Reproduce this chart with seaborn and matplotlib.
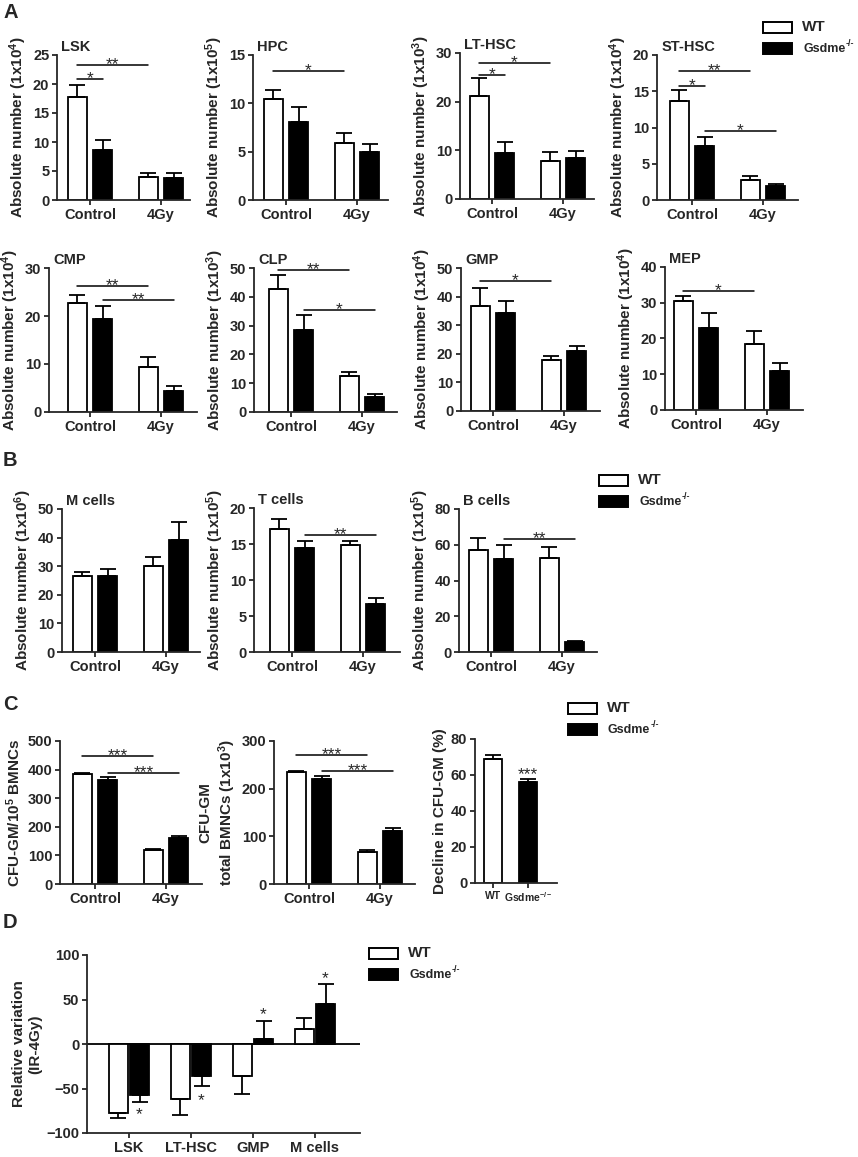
import numpy as np
import pandas as pd
import matplotlib
matplotlib.use("Agg")
import matplotlib.pyplot as plt
from matplotlib.patches import Rectangle
from matplotlib.text import Annotation
import seaborn as sns

# ---- data ----
conds = ["Control", "4Gy"]
genos = ["WT", "KO"]
# order of every list: WT ctrl, KO ctrl, WT 4Gy, KO 4Gy
lsk_mean = [17.7, 8.7, 3.9, 3.8]
lsk_err = [2.2, 1.7, 0.7, 0.8]
hpc_mean = [10.5, 8.1, 5.85, 5.0]
hpc_err = [0.9, 1.5, 1.1, 0.8]
lthsc_mean = [21.2, 9.4, 7.8, 8.5]
lthsc_err = [3.6, 2.3, 1.9, 1.4]
sthsc_mean = [13.7, 7.4, 2.8, 1.95]
sthsc_err = [1.5, 1.3, 0.45, 0.2]
cmp_mean = [22.8, 19.4, 9.4, 4.3]
cmp_err = [1.6, 2.7, 2.1, 1.05]
clp_mean = [42.7, 28.5, 12.4, 5.1]
clp_err = [5.0, 5.2, 1.5, 1.2]
gmp_mean = [36.6, 34.4, 17.9, 21.1]
gmp_err = [6.4, 4.2, 1.4, 1.8]
mep_mean = [30.5, 22.8, 18.5, 11.0]
mep_err = [1.4, 4.2, 3.5, 2.2]
mcell_mean = [26.4, 26.6, 30.0, 39.0]
mcell_err = [1.7, 2.4, 3.3, 6.6]
tcell_mean = [17.1, 14.45, 14.85, 6.7]
tcell_err = [1.4, 1.0, 0.6, 0.8]
bcell_mean = [56.9, 51.9, 52.6, 5.5]
bcell_err = [7.1, 7.7, 6.1, 0.9]
cfu_mean = [383, 365, 118, 161]
cfu_err = [4, 9, 4, 8]
cfutot_mean = [235, 221, 68, 111]
cfutot_err = [2, 5, 3, 6]

decline_cats = ["WT", "Gsdme$^{-/-}$"]
decline_mean = [69.1, 56.1]
decline_err = [1.8, 1.5]

d_cats = ["LSK", "LT-HSC", "GMP", "M cells"]
d_wt_mean = [-77, -61.7, -36.3, 16.8]
d_wt_err = [6, 18.3, 19.4, 12.2]
d_ko_mean = [-56.8, -36.3, 6.0, 44.9]
d_ko_err = [8.2, 11.2, 19.4, 22.8]
d_star_y = [-75, -59, 37, 78]

# significance bars: (bar i, bar j, height, label)
lsk_sig = [(0, 1, 20.9, "*"), (0, 2, 23.2, "**")]
hpc_sig = [(0, 2, 13.3, "*")]
lthsc_sig = [(0, 1, 25.5, "*"), (0, 2, 27.9, "*")]
sthsc_sig = [(0, 1, 15.7, "*"), (0, 2, 17.8, "**"), (1, 3, 9.5, "*")]
cmp_sig = [(0, 2, 26.25, "**"), (1, 3, 23.4, "**")]
clp_sig = [(0, 2, 49.2, "**"), (1, 3, 35.3, "*")]
gmp_sig = [(0, 2, 45.3, "*")]
mep_sig = [(0, 2, 33.3, "*")]
tcell_sig = [(1, 3, 16.3, "**")]
bcell_sig = [(1, 3, 63.1, "**")]
cfu_sig = [(0, 2, 447, "***"), (1, 3, 389, "***")]
cfutot_sig = [(0, 2, 270, "***"), (1, 3, 237, "***")]

# ---- style ----
sns.set_style("ticks")
plt.rcParams["font.family"] = ["Liberation Sans", "DejaVu Sans"]
plt.rcParams["font.weight"] = "bold"
plt.rcParams["axes.labelweight"] = "bold"
plt.rcParams["mathtext.fontset"] = "custom"
plt.rcParams["mathtext.rm"] = "Liberation Sans:bold"
plt.rcParams["mathtext.it"] = "Liberation Sans:bold"
plt.rcParams["mathtext.bf"] = "Liberation Sans:bold"
plt.rcParams["axes.linewidth"] = 1.3

pal = {"WT": "white", "KO": "black"}
LW = 1.3
W, H = 858, 1157
fig = plt.figure(figsize=(W / 100, H / 100), dpi=100)


def add_ax(l, t, r, b):
    return fig.add_axes([l / W, 1 - b / H, (r - l) / W, (b - t) / H])


def finish(ax, ylim, ystep, ylabel, title=None, tsize=10.5):
    ax.set_ylim(*ylim)
    ax.set_yticks(np.arange(ylim[0], ylim[1] + ystep / 2, ystep))
    ax.set_xlabel("")
    ax.set_ylabel(ylabel, fontsize=11, labelpad=3)
    sns.despine(ax=ax)
    for s in ["left", "bottom"]:
        ax.spines[s].set_linewidth(LW)
    ax.tick_params(axis="both", direction="out", length=3.5, width=LW,
                   labelsize=10.5, pad=2)
    ax.tick_params(axis="x", labelsize=tsize)
    if title:
        ax.text(0.03, 1.005, title, transform=ax.transAxes, ha="left",
                va="bottom", fontsize=10.5)


def bar_ends(ax):
    bars = sorted(ax.patches, key=lambda p: p.get_x())
    xs, ys = [], []
    for p in bars:
        y0, y1 = p.get_y(), p.get_y() + p.get_height()
        xs.append(p.get_x() + p.get_width() / 2)
        ys.append(y1 if abs(y1) > abs(y0) else y0)
    return xs, ys


def add_err(ax, xs, ys, err):
    lo = [e if y < 0 else 0 for y, e in zip(ys, err)]
    hi = [e if y >= 0 else 0 for y, e in zip(ys, err)]
    ax.errorbar(xs, ys, yerr=[lo, hi], fmt="none", ecolor="black",
                elinewidth=LW, capsize=6, capthick=LW, zorder=1)


def star(ax, x, y, lab, dy=-3):
    ax.annotate(lab, (x, y), xytext=(0, dy), textcoords="offset points",
                ha="center", va="baseline", fontsize=12.5, fontweight="normal")


def group_panel(box, c0, mean, err, ylim, ystep, title, ylabel, sigs):
    l, t, r, b = box
    ax = add_ax(l, t, r, b)
    df = pd.DataFrame({"cond": np.repeat(conds, 2), "geno": genos * 2,
                       "val": mean})
    sns.barplot(data=df, x="cond", y="val", hue="geno", order=conds,
                hue_order=genos, palette=pal, saturation=1, width=0.73,
                gap=0.27, edgecolor="black", linewidth=LW, errorbar=None,
                legend=False, ax=ax)
    s = 71
    ax.set_xlim((l - c0) / s, (r - c0) / s)
    xs, ys = bar_ends(ax)
    add_err(ax, xs, ys, err)
    for i, j, y, lab in sigs:
        ax.plot([xs[i], xs[j]], [y, y], color="black", lw=1.1)
        star(ax, (xs[i] + xs[j]) / 2, y, lab)
    finish(ax, ylim, ystep, ylabel, title)
    return ax


def abs_lab(p):
    return "Absolute number (1x10$^{%d}$)" % p


def legend(x, y):
    for k, fc in enumerate(["white", "black"]):
        fig.add_artist(Rectangle((x / W, 1 - (y + 21 * k + 10.5) / H),
                                 29 / W, 10.5 / H, transform=fig.transFigure,
                                 facecolor=fc, edgecolor="black", lw=1.4))
    fig.text((x + 39) / W, 1 - (y + 5) / H, "WT", fontsize=11, va="center")
    t = fig.text((x + 40) / W, 1 - (y + 27) / H, "Gsdme", fontsize=9,
                 va="center")
    fig.add_artist(Annotation("-/-", xy=(1, 0.6), xycoords=t,
                              xytext=(0.5, 0), textcoords="offset points",
                              fontsize=6.5, va="bottom", ha="left"))


# ---- panel A ----
group_panel((57, 55, 190, 200), 90, lsk_mean, lsk_err, (0, 25), 5, "LSK",
            abs_lab(4), lsk_sig)
group_panel((253, 55, 388, 200), 286, hpc_mean, hpc_err, (0, 15), 5, "HPC",
            abs_lab(5), hpc_sig)
group_panel((460, 53, 594, 199), 492, lthsc_mean, lthsc_err, (0, 30), 10,
            "LT-HSC", abs_lab(3), lthsc_sig)
group_panel((657, 55, 798, 200), 692, sthsc_mean, sthsc_err, (0, 20), 5,
            "ST-HSC", abs_lab(4), sthsc_sig)
group_panel((49, 268, 197, 412), 90, cmp_mean, cmp_err, (0, 30), 10, "CMP",
            abs_lab(4), cmp_sig)
group_panel((254, 268, 397, 412), 291, clp_mean, clp_err, (0, 50), 10, "CLP",
            abs_lab(3), clp_sig)
group_panel((461, 268, 600, 411), 493, gmp_mean, gmp_err, (0, 50), 10, "GMP",
            abs_lab(4), gmp_sig)
group_panel((665, 267, 803, 410), 696, mep_mean, mep_err, (0, 40), 10, "MEP",
            abs_lab(4), mep_sig)
legend(763, 22)

# ---- panel B ----
group_panel((62, 509, 200, 652), 95, mcell_mean, mcell_err, (0, 50), 10,
            "M cells", abs_lab(6), [])
group_panel((254, 508, 400, 652), 292, tcell_mean, tcell_err, (0, 20), 5,
            "T cells", abs_lab(5), tcell_sig)
group_panel((459, 509, 597, 652), 491, bcell_mean, bcell_err, (0, 80), 20,
            "B cells", abs_lab(5), bcell_sig)
legend(599, 475)

# ---- panel C ----
group_panel((60, 741, 202, 884), 95, cfu_mean, cfu_err, (0, 500), 100, None,
            "CFU-GM/10$^{5}$ BMNCs", cfu_sig)
group_panel((274, 741, 415, 884), 309, cfutot_mean, cfutot_err, (0, 300), 100,
            None, "CFU-GM\ntotal BMNCs (1x10$^{3}$)", cfutot_sig)

ax = add_ax(475, 739, 557, 883)
ddf = pd.DataFrame({"geno": decline_cats, "val": decline_mean})
sns.barplot(data=ddf, x="geno", y="val", hue="geno", order=decline_cats,
            palette=dict(zip(decline_cats, ["white", "black"])), saturation=1,
            width=0.54, edgecolor="black", linewidth=LW, errorbar=None,
            legend=False, ax=ax)
ax.set_xlim((475 - 493) / 35, (557 - 493) / 35)
xs, ys = bar_ends(ax)
add_err(ax, xs, ys, decline_err)
star(ax, xs[1], ys[1] + decline_err[1], "***", dy=0)
finish(ax, (0, 80), 20, "Decline in CFU-GM (%)", tsize=7.5)
legend(568, 703)

# ---- panel D ----
ax = add_ax(87, 955, 360, 1133)
vals, errs, gg, cc = [], [], [], []
for k, c in enumerate(d_cats):
    vals += [d_wt_mean[k], d_ko_mean[k]]
    errs += [d_wt_err[k], d_ko_err[k]]
    gg += genos
    cc += [c, c]
df_d = pd.DataFrame({"cat": cc, "geno": gg, "val": vals})
sns.barplot(data=df_d, x="cat", y="val", hue="geno", order=d_cats,
            hue_order=genos, palette=pal, saturation=1, width=0.68, gap=0.09,
            edgecolor="black", linewidth=LW, errorbar=None, legend=False,
            ax=ax)
ax.set_xlim((87 - 129) / 62, (360 - 129) / 62)
ax.axhline(0, color="black", lw=LW, zorder=0)
xs, ys = bar_ends(ax)
add_err(ax, xs, ys, errs)
for k, y in enumerate(d_star_y):
    star(ax, xs[2 * k + 1], y, "*", dy=-6)
finish(ax, (-100, 100), 50, "Relative variation\n(IR-4Gy)")
legend(369, 948)

# ---- panel letters ----
for lab, y in [("A", 13), ("B", 460), ("C", 705), ("D", 922)]:
    fig.text(3 / W, 1 - y / H, lab, fontsize=14.5, va="center", ha="left")

fig.savefig("out.png", dpi=100)
